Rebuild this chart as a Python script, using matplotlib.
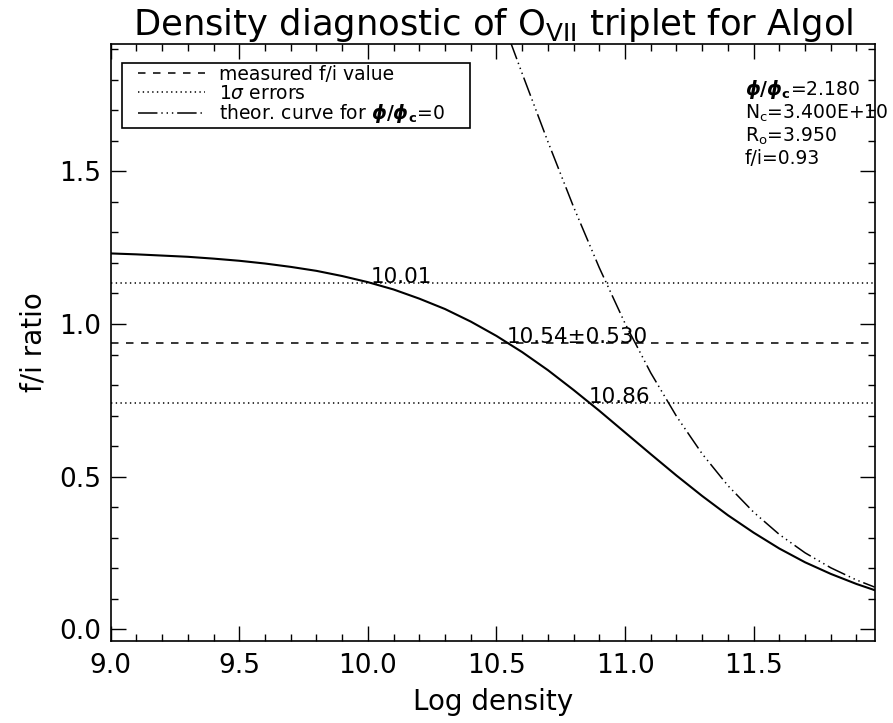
import matplotlib
matplotlib.use("Agg")
import matplotlib.pyplot as plt
from matplotlib.ticker import MultipleLocator, FormatStrFormatter
from matplotlib.patches import Rectangle

plt.rcParams['font.family'] = ['DejaVu Sans']
plt.rcParams['mathtext.fontset'] = 'dejavusans'
plt.rcParams['lines.scale_dashes'] = False

# f/i ratio vs log density
log_n = [9.0, 9.1, 9.2, 9.3, 9.4, 9.5, 9.6, 9.7, 9.8, 9.9,
         10.0, 10.1, 10.2, 10.3, 10.4, 10.5, 10.6, 10.7, 10.8, 10.9,
         11.0, 11.1, 11.2, 11.3, 11.4, 11.5, 11.6, 11.7, 11.8, 11.9, 11.97]
fi_curve = [1.231, 1.228, 1.224, 1.220, 1.214, 1.207, 1.198, 1.187, 1.174, 1.157,
            1.137, 1.113, 1.083, 1.049, 1.008, 0.961, 0.908, 0.849, 0.784, 0.716,
            0.645, 0.574, 0.504, 0.437, 0.374, 0.317, 0.265, 0.220, 0.182, 0.149, 0.129]

# theoretical curve for phi/phi_c = 0
log_n_theo = [10.5, 10.6, 10.7, 10.8, 10.9, 11.0, 11.1, 11.2, 11.3, 11.4,
              11.5, 11.6, 11.7, 11.8, 11.9, 11.97]
fi_theo = [2.047, 1.820, 1.597, 1.383, 1.184, 1.002, 0.840, 0.698, 0.575, 0.471,
           0.384, 0.311, 0.251, 0.202, 0.162, 0.139]

fi_meas = 0.938
fi_hi = 1.135
fi_lo = 0.743
dens_labels = ["10.01", u"10.54\u00b10.530", "10.86"]
dens_pos = [10.01, 10.54, 10.86]
dens_y = [fi_hi, fi_meas, fi_lo]

phi_ratio = r'$\boldsymbol{\phi}\mathbf{/}\boldsymbol{\phi}_\mathbf{c}$'
info_lines = [phi_ratio + '=2.180',
              r'N$_\mathrm{c}$=3.400E+10',
              r'R$_\mathrm{o}$=3.950',
              'f/i=0.93']

W, H = 893, 723
fig = plt.figure(figsize=(W / 100, H / 100), dpi=100)
ax = fig.add_axes([110.7 / W, (H - 640.7) / H, (875 - 110.7) / W, (640.7 - 44.3) / H])

ax.plot(log_n, fi_curve, color='black', lw=1.5)
l1 = ax.axhline(fi_meas, color='black', lw=1.1, dashes=(5.4, 5.4),
                label='measured f/i value')
l2 = ax.axhline(fi_hi, color='black', lw=1.1, dashes=(1.0, 2.4),
                label=r'1$\sigma$ errors')
ax.axhline(fi_lo, color='black', lw=1.1, dashes=(1.0, 2.4))
l3, = ax.plot(log_n_theo, fi_theo, color='black', lw=1.1,
              dashes=(14, 2.8, 1, 2.8, 1, 2.8, 1, 2.8),
              label='theor. curve for ' + phi_ratio + '=0')

for x, y, s in zip(dens_pos, dens_y, dens_labels):
    ax.text(x, y, s, ha='left', va='baseline', fontsize=15.5)

for i, s in enumerate(info_lines):
    ax.text(0.830, 0.9234 - i * 0.0385, s, transform=ax.transAxes,
            ha='left', va='center', fontsize=13.5, clip_on=False)

# legend box drawn separately so the padding matches
ax.add_patch(Rectangle((0.0152, 0.8591), 0.455, 0.109, transform=ax.transAxes,
                       facecolor='white', edgecolor='black', lw=1.2, zorder=4))
leg = ax.legend(handles=[l1, l2, l3], loc='upper left',
                bbox_to_anchor=(0.0357, 0.9653), borderaxespad=0,
                fontsize=13.5, handlelength=3.6, handletextpad=0.72,
                labelspacing=0.0, borderpad=0.0, frameon=False)
leg.set_zorder(5)

ax.set_xlim(9.0, 11.972)
ax.set_ylim(-0.0367, 1.9156)
ax.set_xticks([9.0, 9.5, 10.0, 10.5, 11.0, 11.5])
ax.set_yticks([0.0, 0.5, 1.0, 1.5])
ax.xaxis.set_minor_locator(MultipleLocator(0.1))
ax.yaxis.set_minor_locator(MultipleLocator(0.1))
ax.xaxis.set_major_formatter(FormatStrFormatter('%.1f'))
ax.yaxis.set_major_formatter(FormatStrFormatter('%.1f'))
ax.tick_params(which='both', direction='in', top=True, right=True,
               width=1.0, labelsize=19)
ax.tick_params(which='major', length=10.8)
ax.tick_params(which='minor', length=5)
ax.tick_params(axis='x', pad=9)
ax.tick_params(axis='y', pad=7)
for sp in ax.spines.values():
    sp.set_linewidth(1.2)

ax.set_xlabel('Log density', fontsize=20, labelpad=6)
ax.set_ylabel('f/i ratio', fontsize=20, labelpad=8)
ax.set_title(r'Density diagnostic of O$_\mathrm{VII}$ triplet for Algol',
             fontsize=25.5, pad=7)

fig.savefig('out.png', dpi=100)
